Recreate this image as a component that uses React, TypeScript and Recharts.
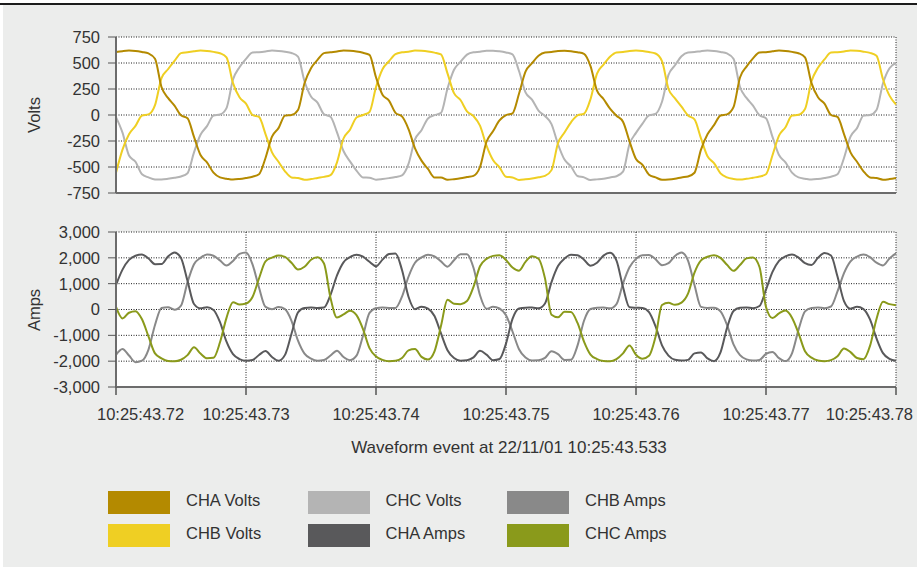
import React from 'react';
import { LineChart, Line, XAxis, YAxis, CartesianGrid } from 'recharts';

// ---- sampling (time axis, seconds past 10:25) ----
const sampleCount = 121;
const startSecond = 43.72;
const sampleStep = 0.0005;
const times = Array.from({ length: sampleCount }, (_, i) => Number((startSecond + i * sampleStep).toFixed(4)));

const xTicks = [43.72, 43.73, 43.74, 43.75, 43.76, 43.77, 43.78];
const xTickLabels = ['10:25:43.72', '10:25:43.73', '10:25:43.74', '10:25:43.75', '10:25:43.76', '10:25:43.77', '10:25:43.78'];
const voltTicks = [-750, -500, -250, 0, 250, 500, 750];
const voltTickLabels = ['-750', '-500', '-250', '0', '250', '500', '750'];
const ampTicks = [-3000, -2000, -1000, 0, 1000, 2000, 3000];
const ampTickLabels = ['-3,000', '-2,000', '-1,000', '0', '1,000', '2,000', '3,000'];

// ---- series values ----
const chaVolts = [
  605, 614, 619, 616, 606, 592, 540, 269, 164, 90,
  -3, -31, -211, -385, -455, -555, -600, -612, -621, -615,
  -605, -593, -570, -413, -208, -126, -6, 0, 48, 305,
  450, 530, 595, 603, 610, 620, 617, 610, 598, 578,
  363, 194, 138, 21, -14, -135, -321, -439, -519, -600,
  -600, -623, -617, -609, -597, -585, -500, -257, -157, -52,
  -2, 16, 204, 417, 498, 570, 602, 606, 616, 618,
  614, 603, 588, 470, 234, 154, 61, -7, -65, -253,
  -423, -479, -574, -600, -622, -620, -613, -600, -591, -555,
  -333, -185, -98, -5, 6, 75, 361, 465, 545, 601,
  604, 612, 619, 616, 607, 594, 555, 306, 170, 109,
  0, -19, -183, -359, -449, -541, -600, -606, -622, -616,
  -605,
];
const chbVolts = [
  -555, -333, -185, -105, -5, 6, 95, 355, 440, 520,
  595, 604, 612, 619, 616, 607, 594, 555, 306, 170,
  109, 0, -19, -183, -359, -449, -541, -600, -606, -622,
  -616, -605, -595, -578, -455, -226, -141, -24, 0, 29,
  268, 440, 517, 585, 603, 609, 619, 617, 611, 600,
  582, 400, 210, 144, 35, -11, -103, -295, -433, -503,
  -594, -600, -624, -618, -610, -599, -586, -530, -270, -168,
  -70, -3, 12, 152, 398, 484, 560, 601, 605, 615,
  619, 615, 605, 591, 517, 250, 160, 80, -4, -42,
  -225, -397, -463, -561, -600, -615, -621, -614, -603, -592,
  -570, -387, -199, -117, -5, 2, 57, 324, 455, 535,
  600, 604, 611, 620, 617, 609, 597, 570, 344, 186,
  100,
];
const chcVolts = [
  -20, -170, -390, -450, -570, -600, -619, -620, -614, -604,
  -591, -560, -360, -190, -107, -5, 4, 66, 342, 460,
  540, 600, 604, 611, 620, 616, 608, 596, 562, 325,
  178, 119, 7, -17, -167, -346, -446, -535, -600, -603,
  -622, -616, -607, -596, -580, -470, -235, -146, -33, -1,
  20, 255, 435, 511, 580, 603, 608, 618, 618, 612,
  601, 584, 423, 218, 148, 42, -10, -87, -281, -429,
  -495, -587, -600, -625, -619, -612, -600, -589, -545, -280,
  -172, -83, -4, 10, 127, 386, 478, 565, 601, 605,
  614, 619, 616, 606, 592, 540, 269, 164, 90, -3,
  -31, -211, -385, -455, -555, -600, -612, -621, -615, -605,
  -593, -570, -413, -208, -126, -6, 0, 48, 305, 450,
  500,
];
const chaAmps = [
  950, 1545, 1922, 2082, 2130, 1976, 1754, 1759, 2050, 2208,
  1993, 1110, 212, 44, 85, -16, -488, -1246, -1728, -1917,
  -1982, -1956, -1760, -1611, -1840, -1985, -1757, -937, -112, 55,
  77, 59, 78, 565, 1320, 1827, 2028, 2123, 2046, 1846,
  1674, 1930, 2147, 2168, 1529, 494, 13, 111, 31, -251,
  -928, -1576, -1880, -1982, -1966, -1855, -1600, -1748, -1960, -1915,
  -1320, -363, 40, 72, 74, 44, 230, 1058, 1680, 1971,
  2115, 2099, 1928, 1697, 1810, 2087, 2194, 1895, 870, 86,
  68, 59, -104, -644, -1386, -1785, -1947, -1976, -1950, -1700,
  -1662, -1895, -2000, -1662, -718, -55, 64, 78, 50, 135,
  766, 1455, 1884, 2060, 2127, 2009, 1792, 1725, 2002, 2184,
  2090, 1275, 325, 32, 102, 17, -384, -1118, -1690, -1908,
  -1986,
];
const chbAmps = [
  -1756, -1525, -1780, -2040, -1980, -1550, -600, 60, 90, -10,
  150, 1050, 1750, 2000, 2130, 2080, 1900, 1700, 1880, 2150,
  2210, 1750, 850, 100, 13, 94, 13, -436, -1207, -1709,
  -1903, -1984, -1958, -1779, -1594, -1840, -1960, -1787, -1014, -131,
  52, 75, 62, 59, 498, 1268, 1808, 2016, 2121, 2056,
  1863, 1657, 1906, 2135, 2142, 1615, 550, 27, 103, 39,
  -222, -851, -1538, -1861, -1974, -1968, -1874, -1620, -1730, -1953,
  -1948, -1399, -434, 21, 71, 77, 45, 211, 1005, 1635,
  1960, 2104, 2109, 1944, 1716, 1793, 2074, 2207, 1895, 950,
  100, 59, 68, -75, -592, -1348, -1766, -1931, -1978, -1952,
  -1720, -1645, -1880, -1998, -1694, -789, -74, 61, 78, 53,
  116, 699, 1410, 1865, 2050, 2126, 2025, 1811, 1708, 1978,
  2172,
];
const chcAmps = [
  100, -344, -125, -64, -380, -1045, -1700, -1888, -1990, -2004,
  -1945, -1766, -1465, -1706, -1890, -1872, -1270, -322, 284, 195,
  230, 481, 1200, 1862, 2010, 2090, 2035, 1807, 1545, 1653,
  1928, 2024, 1780, 450, -313, -188, -48, -218, -756, -1494,
  -1820, -1951, -2000, -1986, -1880, -1583, -1530, -1833, -1938, -1620,
  -634, 375, 220, 205, 326, 875, 1675, 1960, 2076, 2098,
  1914, 1624, 1503, 1846, 2060, 1967, 1205, -200, -300, -91,
  -98, -521, -1240, -1745, -1917, -1993, -2008, -1921, -1697, -1394,
  -1753, -1909, -1794, -1060, 175, 260, 180, 266, 612, 1425,
  1900, 2040, 2099, 1997, 1731, 1497, 1721, 1978, 2016, 1645,
  100, -331, -150, -41, -315, -915, -1618, -1865, -1974, -2000,
  -1961, -1812, -1512, -1650, -1880, -1924, -1410, -366, 300, 208,
  165,
];

const seriesNames = ['CHA Volts', 'CHB Volts', 'CHC Volts', 'CHA Amps', 'CHB Amps', 'CHC Amps'];
const seriesKeys = ['chaVolts', 'chbVolts', 'chcVolts', 'chaAmps', 'chbAmps', 'chcAmps'];
const seriesColors = ['#B48A00', '#EFCF23', '#B4B4B4', '#59595B', '#898989', '#8A9A1B'];

const axisTitle = 'Waveform event at 22/11/01 10:25:43.533';

// ---- build rows for recharts ----
const rows = times.map((t, i) => ({
  t,
  chaVolts: chaVolts[i],
  chbVolts: chbVolts[i],
  chcVolts: chcVolts[i],
  chaAmps: chaAmps[i],
  chbAmps: chbAmps[i],
  chcAmps: chcAmps[i],
}));

const FONT = '"Liberation Sans", Arial, Helvetica, sans-serif';
const TEXT = '#333333';
const AXIS = '#6c6c6c';
const tickStyle = { fontSize: 16.5, fill: TEXT, fontFamily: FONT };

const AxisTitle = (props: any) => {
  const cy = props.cy;
  return (
    <text
      x={34}
      y={cy}
      transform={`rotate(-90 34 ${cy})`}
      textAnchor="middle"
      dominantBaseline="central"
      fontSize={16.5}
      fill={TEXT}
      fontFamily={FONT}
    >
      {props.value}
    </text>
  );
};

const TimeTick = (props: any) => {
  const { x, y, payload } = props;
  const idx = xTicks.findIndex((v) => Math.abs(v - payload.value) < 1e-6);
  let anchor: 'start' | 'middle' | 'end' = 'middle';
  let dx = 0;
  if (idx === 0) {
    anchor = 'start';
    dx = -19;
  } else if (idx === xTicks.length - 1) {
    anchor = 'end';
    dx = 17;
  }
  return (
    <text x={x + dx} y={y} dy={23} textAnchor={anchor} fontSize={16.5} fill={TEXT} fontFamily={FONT}>
      {idx >= 0 ? xTickLabels[idx] : ''}
    </text>
  );
};

const gridProps = {
  stroke: '#1e1e1e',
  strokeDasharray: '1 1.5',
  fill: '#ffffff',
};

export default function App() {
  const xDomain: [number, number] = [xTicks[0], xTicks[xTicks.length - 1]];
  return (
    <div style={{ position: 'absolute', left: 0, top: 0, width: 917, height: 567, background: '#ffffff', overflow: 'hidden' }}>
      <div style={{ position: 'absolute', left: 3, top: 4, width: 914, height: 563, background: '#ECEDEC' }} />
      <div style={{ position: 'absolute', left: 0, top: 3, width: 917, height: 1.5, background: '#1c1c1c' }} />

      {/* Volts panel */}
      <div style={{ position: 'absolute', left: 0, top: 0 }}>
        <LineChart width={917} height={215} data={rows} margin={{ top: 37, right: 21, bottom: 0, left: 16 }}>
          <CartesianGrid {...gridProps} />
          <XAxis
            dataKey="t"
            type="number"
            domain={xDomain}
            ticks={xTicks}
            interval={0}
            height={22}
            tick={false}
            tickLine={false}
            axisLine={{ stroke: AXIS, strokeWidth: 2 }}
          />
          <XAxis
            xAxisId="top"
            dataKey="t"
            type="number"
            orientation="top"
            domain={xDomain}
            ticks={xTicks}
            height={0}
            tick={false}
            tickLine={false}
            axisLine={{ stroke: '#222222', strokeWidth: 1.2 }}
          />
          <YAxis
            type="number"
            domain={[voltTicks[0], voltTicks[voltTicks.length - 1]]}
            ticks={voltTicks}
            interval={0}
            width={100}
            tickSize={8}
            tickMargin={8}
            tick={tickStyle}
            tickFormatter={(v: number) => voltTickLabels[voltTicks.indexOf(v)] ?? String(v)}
            tickLine={{ stroke: '#555555' }}
            axisLine={{ stroke: AXIS, strokeWidth: 2 }}
            label={<AxisTitle value="Volts" cy={115} />}
          />
          <YAxis
            yAxisId="right"
            orientation="right"
            type="number"
            domain={[voltTicks[0], voltTicks[voltTicks.length - 1]]}
            width={0}
            tick={false}
            tickLine={false}
            axisLine={{ stroke: AXIS, strokeWidth: 1.5 }}
          />
          {[2, 1, 0].map((s) => (
            <Line
              key={seriesKeys[s]}
              dataKey={seriesKeys[s]}
              name={seriesNames[s]}
              type="monotone"
              stroke={seriesColors[s]}
              strokeWidth={2}
              dot={false}
              isAnimationActive={false}
            />
          ))}
        </LineChart>
      </div>

      {/* Amps panel */}
      <div style={{ position: 'absolute', left: 0, top: 200 }}>
        <LineChart width={917} height={230} data={rows} margin={{ top: 32, right: 21, bottom: 0, left: 16 }}>
          <CartesianGrid {...gridProps} />
          <XAxis
            dataKey="t"
            type="number"
            domain={xDomain}
            ticks={xTicks}
            interval={0}
            height={43}
            tickSize={8}
            tickMargin={2}
            tick={<TimeTick />}
            tickLine={{ stroke: '#555555', strokeWidth: 1.5 }}
            axisLine={{ stroke: AXIS, strokeWidth: 2 }}
          />
          <XAxis
            xAxisId="top"
            dataKey="t"
            type="number"
            orientation="top"
            domain={xDomain}
            ticks={xTicks}
            height={0}
            tick={false}
            tickLine={false}
            axisLine={{ stroke: '#222222', strokeWidth: 1.2 }}
          />
          <YAxis
            type="number"
            domain={[ampTicks[0], ampTicks[ampTicks.length - 1]]}
            ticks={ampTicks}
            interval={0}
            width={100}
            tickSize={8}
            tickMargin={8}
            tick={tickStyle}
            tickFormatter={(v: number) => ampTickLabels[ampTicks.indexOf(v)] ?? String(v)}
            tickLine={{ stroke: '#555555' }}
            axisLine={{ stroke: AXIS, strokeWidth: 2 }}
            label={<AxisTitle value="Amps" cy={110} />}
          />
          <YAxis
            yAxisId="right"
            orientation="right"
            type="number"
            domain={[ampTicks[0], ampTicks[ampTicks.length - 1]]}
            width={0}
            tick={false}
            tickLine={false}
            axisLine={{ stroke: AXIS, strokeWidth: 1.5 }}
          />
          {[4, 3, 5].map((s) => (
            <Line
              key={seriesKeys[s]}
              dataKey={seriesKeys[s]}
              name={seriesNames[s]}
              type="monotone"
              stroke={seriesColors[s]}
              strokeWidth={2}
              dot={false}
              isAnimationActive={false}
            />
          ))}
        </LineChart>
      </div>

      {/* Axis caption */}
      <div
        style={{
          position: 'absolute',
          left: 259,
          width: 500,
          top: 437,
          height: 22,
          lineHeight: '22px',
          textAlign: 'center',
          fontFamily: FONT,
          fontSize: 17,
          color: TEXT,
          whiteSpace: 'nowrap',
        }}
      >
        {axisTitle}
      </div>

      {/* Legend */}
      {seriesNames.map((name, i) => {
        const col = Math.floor(i / 2);
        const row = i % 2;
        const left = 108 + col * 199.5;
        const top = 491 + row * 33;
        return (
          <div key={name} style={{ position: 'absolute', left, top, height: 23, display: 'flex', alignItems: 'center' }}>
            <div style={{ width: 62, height: 23, background: seriesColors[i] }} />
            <div
              style={{
                marginLeft: 16,
                fontFamily: FONT,
                fontSize: 16.5,
                color: TEXT,
                whiteSpace: 'nowrap',
                position: 'relative',
                top: -2,
              }}
            >
              {name}
            </div>
          </div>
        );
      })}
    </div>
  );
}
